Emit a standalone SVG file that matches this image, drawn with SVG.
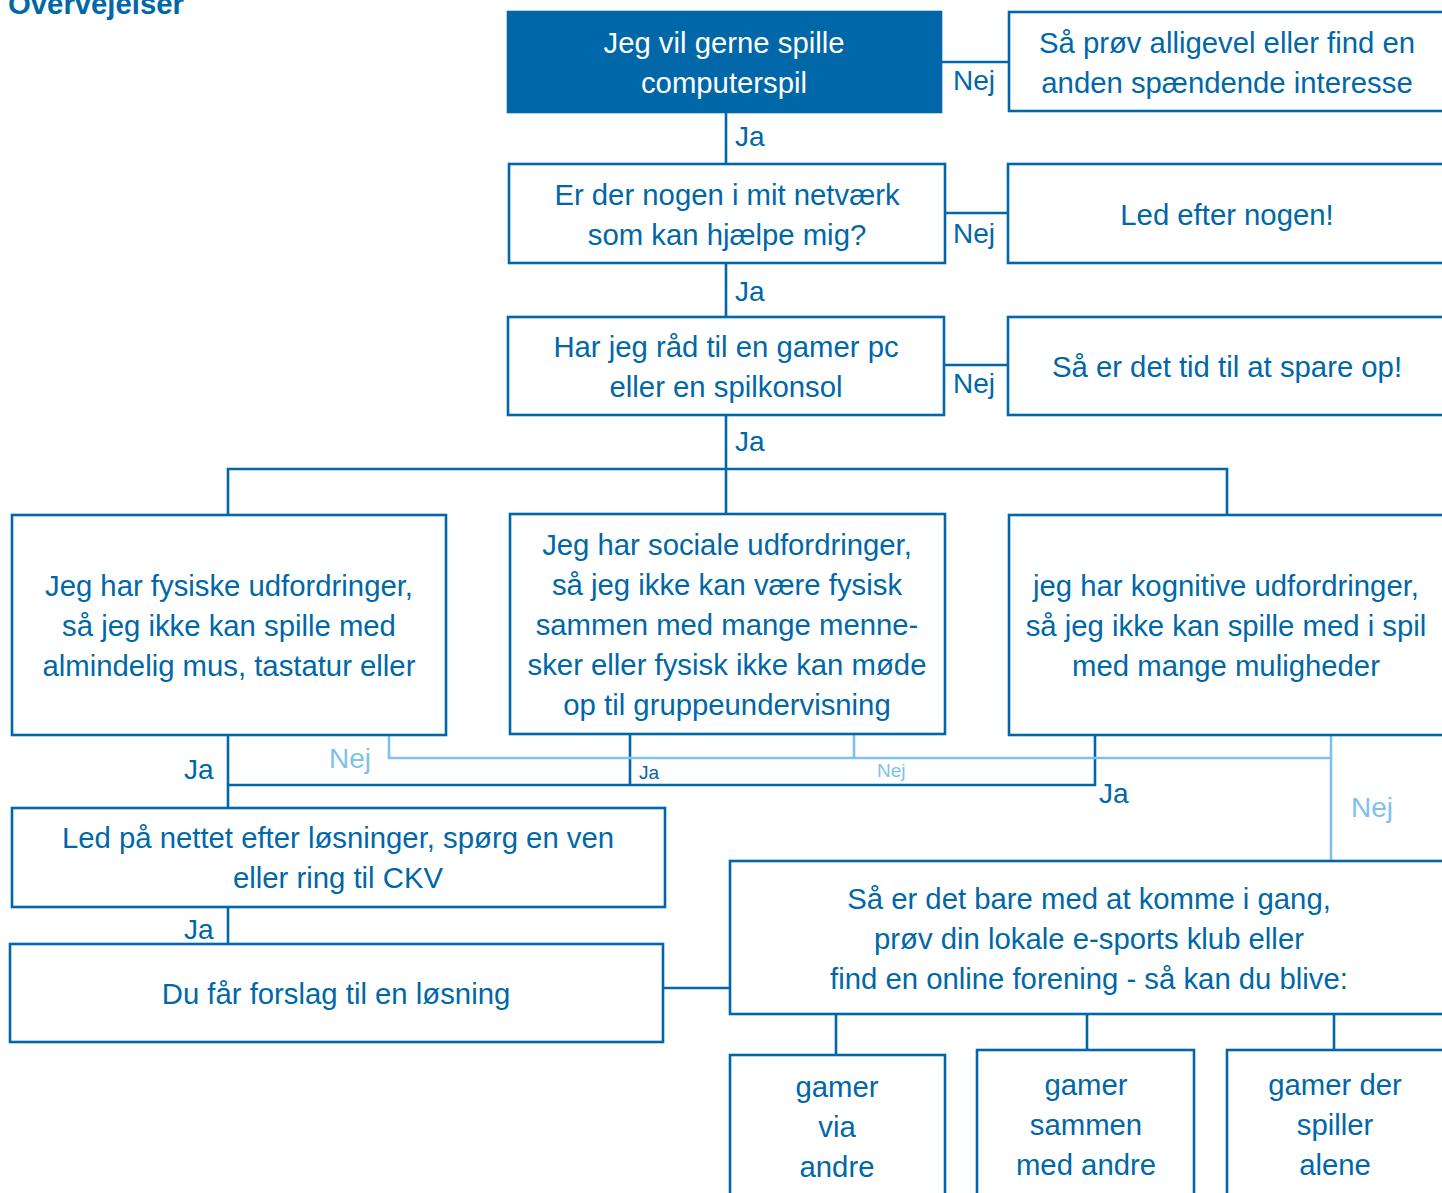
<svg xmlns="http://www.w3.org/2000/svg" width="1442" height="1193" viewBox="0 0 1442 1193">
<style>
.box{fill:#fff;stroke:#0067a8;stroke-width:2.6}
.fill{fill:#0067a8;stroke:#0067a8;stroke-width:2.6}
.t{font-family:"Liberation Sans",Arial,sans-serif;font-size:29.3px;fill:#0067a8;text-anchor:middle}
.tw{font-family:"Liberation Sans",Arial,sans-serif;font-size:29.3px;fill:#fff;text-anchor:middle}
.lbl{font-family:"Liberation Sans",Arial,sans-serif;font-size:28px;fill:#0067a8}
.lbll{font-family:"Liberation Sans",Arial,sans-serif;font-size:28px;fill:#7fc1eb}
.sm{font-family:"Liberation Sans",Arial,sans-serif;font-size:19px;fill:#0067a8}
.sml{font-family:"Liberation Sans",Arial,sans-serif;font-size:19px;fill:#7fc1eb}
.c{fill:none;stroke:#0067a8;stroke-width:2.6}
.cl{fill:none;stroke:#7fc1eb;stroke-width:2.6}
.title{font-family:"Liberation Sans",Arial,sans-serif;font-size:29.3px;font-weight:bold;fill:#0067a8}
</style>
<rect width="1442" height="1193" fill="#fff"/>
<text class="title" x="8" y="14">Overvejelser</text>

<g id="connectors">
<path class="c" d="M941,62 H1009"/>
<path class="c" d="M726,112 V164"/>
<path class="c" d="M945,213 H1008"/>
<path class="c" d="M726,263 V317"/>
<path class="c" d="M945,365 H1008"/>
<path class="c" d="M726,415 V514"/>
<path class="c" d="M228,515 V469 H1227 V515"/>
<path class="c" d="M228,735 V808"/>
<path class="c" d="M228,785 H1095 V735"/>
<path class="c" d="M630,734 V785"/>
<path class="cl" d="M389,735 V758 H1331"/>
<path class="cl" d="M854,734 V758"/>
<path class="cl" d="M1331,735 V861"/>
<path class="c" d="M228,907 V944"/>
<path class="c" d="M663,988 H730"/>
<path class="c" d="M836,1014 V1055"/>
<path class="c" d="M1087,1014 V1050"/>
<path class="c" d="M1334,1014 V1050"/>
<text class="lbl" x="953" y="90">Nej</text>
<text class="lbl" x="735" y="146">Ja</text>
<text class="lbl" x="953" y="243">Nej</text>
<text class="lbl" x="735" y="301">Ja</text>
<text class="lbl" x="953" y="393">Nej</text>
<text class="lbl" x="735" y="451">Ja</text>
<text class="lbl" x="184" y="779">Ja</text>
<text class="lbll" x="329" y="768">Nej</text>
<text class="sm" x="639" y="779">Ja</text>
<text class="sml" x="877" y="777">Nej</text>
<text class="lbl" x="1099" y="803">Ja</text>
<text class="lbll" x="1351" y="817">Nej</text>
<text class="lbl" x="184" y="939">Ja</text>
</g>

<g id="n1"><rect class="fill" x="508" y="12" width="433" height="100"/>
<text class="tw" x="724" y="53">Jeg vil gerne spille</text><text class="tw" x="724" y="93">computerspil</text></g>
<g id="n2"><rect class="box" x="1009" y="12" width="437" height="99"/>
<text class="t" x="1227" y="53">Så prøv alligevel eller find en</text><text class="t" x="1227" y="93">anden spændende interesse</text></g>
<g id="n3"><rect class="box" x="509" y="164" width="436" height="99"/>
<text class="t" x="727" y="205">Er der nogen i mit netværk</text><text class="t" x="727" y="245">som kan hjælpe mig?</text></g>
<g id="n4"><rect class="box" x="1008" y="164" width="438" height="99"/>
<text class="t" x="1227" y="225">Led efter nogen!</text></g>
<g id="n5"><rect class="box" x="508" y="317" width="436" height="98"/>
<text class="t" x="726" y="357">Har jeg råd til en gamer pc</text><text class="t" x="726" y="397">eller en spilkonsol</text></g>
<g id="n6"><rect class="box" x="1008" y="317" width="438" height="98"/>
<text class="t" x="1227" y="377">Så er det tid til at spare op!</text></g>
<g id="n7"><rect class="box" x="12" y="515" width="434" height="220"/>
<text class="t" x="229" y="596">Jeg har fysiske udfordringer,</text><text class="t" x="229" y="636">så jeg ikke kan spille med</text><text class="t" x="229" y="676">almindelig mus, tastatur eller</text></g>
<g id="n8"><rect class="box" x="510" y="514" width="435" height="220"/>
<text class="t" x="727" y="555">Jeg har sociale udfordringer,</text><text class="t" x="727" y="595">så jeg ikke kan være fysisk</text><text class="t" x="727" y="635">sammen med mange menne-</text><text class="t" x="727" y="675">sker eller fysisk ikke kan møde</text><text class="t" x="727" y="715">op til gruppeundervisning</text></g>
<g id="n9"><rect class="box" x="1009" y="515" width="437" height="220"/>
<text class="t" x="1226" y="596">jeg har kognitive udfordringer,</text><text class="t" x="1226" y="636">så jeg ikke kan spille med i spil</text><text class="t" x="1226" y="676">med mange muligheder</text></g>
<g id="n10"><rect class="box" x="12" y="808" width="653" height="99"/>
<text class="t" x="338" y="848">Led på nettet efter løsninger, spørg en ven</text><text class="t" x="338" y="888">eller ring til CKV</text></g>
<g id="n11"><rect class="box" x="10" y="944" width="653" height="98"/>
<text class="t" x="336" y="1004">Du får forslag til en løsning</text></g>
<g id="n12"><rect class="box" x="730" y="861" width="716" height="153"/>
<text class="t" x="1089" y="909">Så er det bare med at komme i gang,</text><text class="t" x="1089" y="949">prøv din lokale e-sports klub eller</text><text class="t" x="1089" y="989">find en online forening - så kan du blive:</text></g>
<g id="n13"><rect class="box" x="730" y="1055" width="215" height="150"/>
<text class="t" x="837" y="1097">gamer</text><text class="t" x="837" y="1137">via</text><text class="t" x="837" y="1177">andre</text></g>
<g id="n14"><rect class="box" x="977" y="1050" width="217" height="155"/>
<text class="t" x="1086" y="1095">gamer</text><text class="t" x="1086" y="1135">sammen</text><text class="t" x="1086" y="1175">med andre</text></g>
<g id="n15"><rect class="box" x="1227" y="1050" width="219" height="155"/>
<text class="t" x="1335" y="1095">gamer der</text><text class="t" x="1335" y="1135">spiller</text><text class="t" x="1335" y="1175">alene</text></g>
</svg>
